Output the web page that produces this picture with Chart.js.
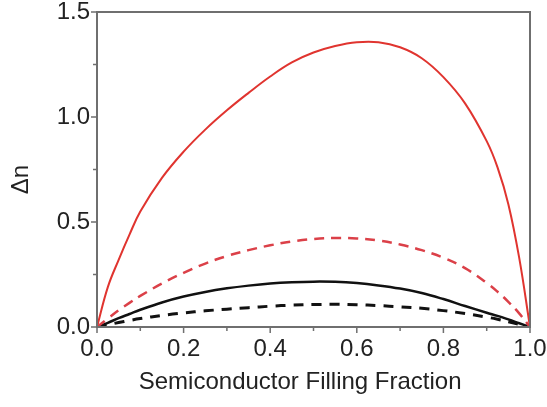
<!DOCTYPE html>
<html lang="en">
<head>
    <meta charset="UTF-8">
    <title>Filling Fraction</title>
    <script src="https://cdn.jsdelivr.net/npm/chart.js"></script>
    <style>
        body { margin: 0; background: #fff; }
        #wrap { width: 547px; height: 407px; }
    </style>
</head>
<body>
    <div id="wrap">
        <canvas id="fracChart" width="547" height="407"></canvas>
    </div>
    <script>
        // values
        const fraction = [0, 0.025, 0.05, 0.075, 0.1, 0.15, 0.2, 0.25, 0.3, 0.35, 0.4, 0.45, 0.5, 0.55,
                          0.6, 0.65, 0.7, 0.75, 0.8, 0.85, 0.9, 0.925, 0.95, 0.975, 1];
        const redSolid = [0, 0.19, 0.32, 0.44, 0.55, 0.71, 0.835, 0.94, 1.032, 1.115, 1.193, 1.26, 1.307, 1.338,
                          1.356, 1.356, 1.332, 1.28, 1.19, 1.065, 0.885, 0.76, 0.585, 0.33, 0];
        const redDashed = [0, 0.04, 0.08, 0.115, 0.148, 0.207, 0.258, 0.302, 0.338, 0.366, 0.389, 0.407, 0.419, 0.424,
                           0.422, 0.412, 0.393, 0.366, 0.33, 0.28, 0.21, 0.168, 0.12, 0.065, 0];
        const blackSolid = [0, 0.02, 0.042, 0.062, 0.082, 0.117, 0.145, 0.167, 0.184, 0.197, 0.207, 0.213, 0.216, 0.215,
                            0.209, 0.198, 0.183, 0.162, 0.133, 0.1, 0.068, 0.053, 0.036, 0.018, 0];
        const blackDashed = [0, 0.011, 0.021, 0.031, 0.04, 0.055, 0.067, 0.077, 0.085, 0.092, 0.099, 0.104, 0.107, 0.108,
                             0.106, 0.102, 0.096, 0.089, 0.078, 0.064, 0.047, 0.037, 0.025, 0.013, 0];

        const xTicks = [0, 0.2, 0.4, 0.6, 0.8, 1.0];
        const yTicks = [0, 0.5, 1.0, 1.5];

        const pts = ys => fraction.map((x, i) => ({ x: x, y: ys[i] }));
        const FONT = 'Liberation Sans, Arial, sans-serif';
        const TXT = '#222';

        // box + outward ticks like the origin-style frame
        const framePlugin = {
            id: 'frame',
            afterDraw(chart) {
                const { ctx, chartArea: a, scales } = chart;
                ctx.save();
                ctx.strokeStyle = '#6f6f6f';
                ctx.lineWidth = 2;
                ctx.strokeRect(a.left, a.top, a.right - a.left, a.bottom - a.top);
                ctx.lineWidth = 1.5;
                ctx.beginPath();
                for (let i = 0; i <= 10; i++) {
                    const px = scales.x.getPixelForValue(i / 10);
                    const len = i % 2 === 0 ? 6 : 4;
                    ctx.moveTo(px, a.bottom);
                    ctx.lineTo(px, a.bottom + len);
                }
                for (let i = 0; i <= 6; i++) {
                    const py = scales.y.getPixelForValue(i * 0.25);
                    const len = i % 2 === 0 ? 6 : 4;
                    ctx.moveTo(a.left, py);
                    ctx.lineTo(a.left - len, py);
                }
                ctx.stroke();
                ctx.restore();
            }
        };

        const ctx = document.getElementById('fracChart').getContext('2d');
        new Chart(ctx, {
            type: 'line',
            data: {
                datasets: [
                    { data: pts(redSolid), borderColor: '#e0342f', borderWidth: 2 },
                    { data: pts(redDashed), borderColor: '#db4048', borderWidth: 2.5, borderDash: [10, 7] },
                    { data: pts(blackSolid), borderColor: '#111', borderWidth: 2.5 },
                    { data: pts(blackDashed), borderColor: '#111', borderWidth: 3, borderDash: [10, 8] }
                ]
            },
            plugins: [framePlugin],
            options: {
                responsive: false,
                animation: false,
                layout: { autoPadding: false, padding: { left: 0, right: 17, top: 12, bottom: 0 } },
                elements: {
                    point: { radius: 0, hoverRadius: 0 },
                    line: { tension: 0.4, fill: false }
                },
                plugins: {
                    legend: { display: false },
                    tooltip: { enabled: false }
                },
                scales: {
                    x: {
                        type: 'linear',
                        min: 0,
                        max: 1,
                        afterFit: s => { s.height = 80; s.paddingLeft = 0; s.paddingRight = 0; },
                        afterBuildTicks: s => { s.ticks = xTicks.map(v => ({ value: v })); },
                        grid: { display: false, drawTicks: false, tickLength: 0 },
                        border: { display: false },
                        ticks: {
                            padding: 8,
                            color: TXT,
                            font: { family: FONT, size: 24 },
                            maxRotation: 0,
                            callback: v => v.toFixed(1)
                        },
                        title: {
                            display: true,
                            // trailing spaces nudge the centred title left, as in the original
                            text: 'Semiconductor Filling Fraction\u00A0\u00A0\u00A0\u00A0',
                            color: TXT,
                            font: { family: FONT, size: 24 },
                            padding: { top: 2, bottom: 10 }
                        }
                    },
                    y: {
                        min: 0,
                        max: 1.5,
                        afterFit: s => { s.width = 97; s.paddingTop = 0; s.paddingBottom = 0; },
                        afterBuildTicks: s => { s.ticks = yTicks.map(v => ({ value: v })); },
                        grid: { display: false, drawTicks: false, tickLength: 0 },
                        border: { display: false },
                        ticks: {
                            padding: 7,
                            color: TXT,
                            font: { family: FONT, size: 24 },
                            callback: v => v.toFixed(1)
                        },
                        title: {
                            display: true,
                            text: 'Δn\u00A0\u00A0\u00A0',
                            color: TXT,
                            font: { family: FONT, size: 24 },
                            padding: { top: 7, bottom: 0 }
                        }
                    }
                }
            }
        });
    </script>
</body>
</html>
